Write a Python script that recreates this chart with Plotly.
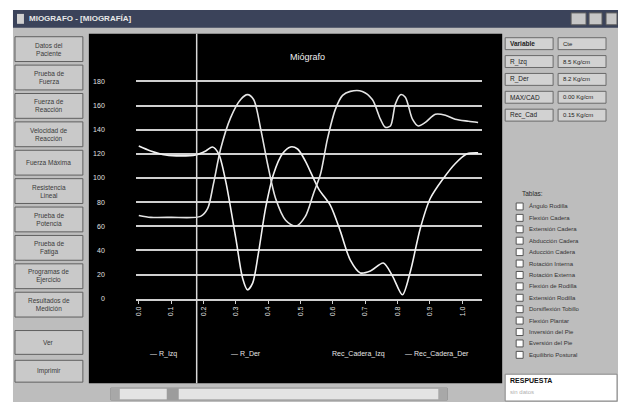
import plotly.graph_objects as go

# ---- signal data (time in s, force units) ----
t_izq = [0.000, 0.037, 0.083, 0.130, 0.176, 0.207, 0.228, 0.247, 0.269, 0.300,
         0.321, 0.336, 0.352, 0.370, 0.392, 0.417, 0.444, 0.469, 0.491, 0.515,
         0.556, 0.593, 0.623, 0.654, 0.685, 0.716, 0.756, 0.784, 0.815, 0.840,
         0.870, 0.901, 0.941, 0.978, 1.015, 1.049]
r_izq = [126.5, 122.4, 119.1, 118.3, 119.1, 122.4, 125.7, 120, 97, 50,
         17, 7.4, 13, 38, 75, 103.5, 120, 125.7, 124, 114,
         91, 77, 56, 32, 21.4, 23, 29.6, 19, 3.3, 23,
         58, 83, 99.4, 111.8, 120, 120.8]

t_der = [0.000, 0.037, 0.099, 0.191, 0.213, 0.231, 0.253, 0.284, 0.315, 0.336,
         0.355, 0.377, 0.398, 0.423, 0.454, 0.485, 0.515, 0.540, 0.562, 0.583,
         0.608, 0.630, 0.654, 0.691, 0.722, 0.747, 0.762, 0.778, 0.793, 0.809,
         0.824, 0.846, 0.864, 0.886, 0.917, 0.948, 0.978, 1.019, 1.049]
r_der = [69, 67.4, 67.4, 68.2, 74.8, 95.3, 124, 150, 165, 169,
         165, 140.5, 111.8, 83, 65, 60, 68.2, 87, 103.5, 132,
         157, 168.4, 171.7, 171.7, 165, 148.7, 142, 143, 161, 169,
         166.8, 148.7, 143, 146, 152.8, 152, 148.7, 147, 146]

y_ticks = [0, 20, 40, 60, 80, 100, 120, 140, 160, 180]
y_tick_labels = [str(v) for v in y_ticks]
x_ticks = [0.0, 0.1, 0.2, 0.3, 0.4, 0.5, 0.6, 0.7, 0.8, 0.9, 1.0]
x_tick_labels = ["0.0", "0.1", "0.2", "0.3", "0.4", "0.5", "0.6", "0.7", "0.8", "0.9", "1.0"]
cursor_t = 0.179

series_labels = ["\u2014 R_Izq", "\u2014 R_Der", "Rec_Cadera_Izq", "\u2014 Rec_Cadera_Der"]

menu_buttons = ["Datos del<br>Paciente", "Prueba de<br>Fuerza", "Fuerza de<br>Reacción",
                "Velocidad de<br>Reacción", "Fuerza Máxima", "Resistencia<br>Lineal",
                "Prueba de<br>Potencia", "Prueba de<br>Fatiga", "Programas de<br>Ejercicio",
                "Resultados de<br>Medición"]
extra_buttons = ["Ver", "Imprimir"]

table_rows = [("Variable", "Cte"), ("R_Izq", "8.5 Kg/cm"), ("R_Der", "8.2 Kg/cm"),
              ("MAX/CAD", "0.00 Kg/cm"), ("Rec_Cad", "0.15 Kg/cm")]

check_items = ["Ángulo Rodilla", "Flexión Cadera", "Extensión Cadera", "Abducción Cadera",
               "Aducción Cadera", "Rotación Interna", "Rotación Externa", "Flexión de Rodilla",
               "Extensión Rodilla", "Dorsiflexión Tobillo", "Flexión Plantar",
               "Inversión del Pie", "Eversión del Pie", "Equilibrio Postural"]

W, H = 618, 405
FONT = "Liberation Sans, Arial, sans-serif"


def fx(px):
    return px / W


def fy(py):
    return 1 - py / H


shapes = []
annotations = []


def rect(x0, y0, x1, y1, fill, line=None, width=1, layer="below"):
    shapes.append(dict(type="rect", xref="paper", yref="paper",
                       x0=fx(x0), x1=fx(x1), y0=fy(y1), y1=fy(y0),
                       fillcolor=fill, layer=layer,
                       line=dict(color=line or fill, width=width if line else 0)))


def text(x, y, s, size=7, color="#222", xanchor="left", bold=False, align="left"):
    if bold:
        s = "<b>" + s + "</b>"
    annotations.append(dict(xref="paper", yref="paper", x=fx(x), y=fy(y), text=s,
                            showarrow=False, xanchor=xanchor, yanchor="middle",
                            align=align, font=dict(family=FONT, size=size, color=color)))


# window body and title bar
rect(12, 10, 618, 405, "#bdbdbd")
rect(12, 10, 618, 28, "#3b435a")
text(26, 19, "MIOGRAFO - [MIOGRAFÍA]", size=8, color="#e8e8e8", bold=True)
rect(16, 14, 23, 24, "#d0d0d0")
for bx0, bx1 in [(571, 586), (589, 602), (606, 617)]:
    rect(bx0, 13, bx1, 25, "#c6c6c6", line="#5a5a5a")

# graph panel
rect(88, 34, 502, 386, "#000000")

# left menu buttons
for i, lab in enumerate(menu_buttons):
    y0 = 37 + i * 28.6
    rect(14, y0, 82, y0 + 25, "#c9c9c9", line="#5f5f5f")
    text(48, y0 + 12.5, lab, size=6.5, color="#3a3a3a", xanchor="center", align="center")
for lab, (y0, y1) in zip(extra_buttons, [(333, 357), (363, 385)]):
    rect(14, y0, 82, y1, "#c9c9c9", line="#5f5f5f")
    text(48, (y0 + y1) / 2, lab, size=6.5, color="#3a3a3a", xanchor="center")

# horizontal scrollbar
rect(110, 391, 447, 403, "#e4e4e4", line="#8a8a8a")
rect(110, 391, 119, 403, "#a8a8a8")
rect(438, 391, 447, 403, "#a8a8a8")
rect(166, 391, 178, 403, "#9c9c9c")

# right side value table
for r, (a, b) in enumerate(table_rows):
    yc = 44 + r * 18
    rect(505, yc - 6, 553, yc + 6, "#d2d2d2", line="#6a6a6a")
    rect(558, yc - 6, 606, yc + 6, "#d2d2d2", line="#6a6a6a")
    text(508, yc, a, size=6.5, color="#222", bold=(r == 0))
    text(561, yc, b, size=6, color="#222")

# right side checklist
text(520, 195, "Tablas:", size=6.5, color="#2a2a2a")
for i, lab in enumerate(check_items):
    yc = 208 + i * 11.5
    rect(516, yc - 3.5, 523, yc + 3.5, "#ffffff", line="#555555")
    text(527, yc, lab, size=6, color="#333")

# response box
rect(505, 377, 617, 404, "#ffffff", line="#888888")
text(508, 383, "RESPUESTA", size=7, color="#111", bold=True)
text(508, 395, "sin datos", size=6, color="#b0b0b0")

# chart title and series captions
text(307, 57, "Miógrafo", size=9, color="#f0f0f0", xanchor="center")
for lab, xc in zip(series_labels, [163, 245, 358, 437]):
    text(xc, 357, lab, size=7, color="#e6e6e6", xanchor="center")

# cursor line
shapes.append(dict(type="line", xref="x", yref="paper", x0=cursor_t, x1=cursor_t,
                   y0=fy(386), y1=fy(34), line=dict(color="#d8d8d8", width=1.5), layer="above"))

fig = go.Figure()
fig.add_trace(go.Scatter(x=t_izq, y=r_izq, mode="lines", name="R_Izq",
                         line=dict(color="#f2f2f2", width=1.6, shape="spline", smoothing=0.8)))
fig.add_trace(go.Scatter(x=t_der, y=r_der, mode="lines", name="R_Der",
                         line=dict(color="#e4e4e4", width=1.6, shape="spline", smoothing=0.8)))

x_lo = (135 - 138) / 324
x_hi = (482 - 138) / 324

fig.update_layout(
    width=W, height=H, margin=dict(l=0, r=0, t=0, b=0),
    paper_bgcolor="#ffffff", plot_bgcolor="#000000",
    showlegend=False, shapes=shapes, annotations=annotations,
    xaxis=dict(domain=[fx(135), fx(482)], range=[x_lo, x_hi],
               tickvals=x_ticks, ticktext=x_tick_labels, tickangle=-90,
               tickfont=dict(family=FONT, size=7, color="#e0e0e0"),
               showgrid=False, zeroline=False, showline=True,
               linecolor="#cfcfcf", linewidth=2,
               ticks="outside", ticklen=3, tickcolor="#cfcfcf"),
    yaxis=dict(domain=[fy(301), fy(77.1)], range=[0, 184],
               tickvals=y_ticks, ticktext=y_tick_labels,
               tickfont=dict(family=FONT, size=7, color="#e0e0e0"),
               ticklabelstandoff=30,
               showgrid=True, gridcolor="#cfcfcf", gridwidth=2,
               zeroline=False, showline=False, ticks=""),
)

fig.write_html("out.html")
